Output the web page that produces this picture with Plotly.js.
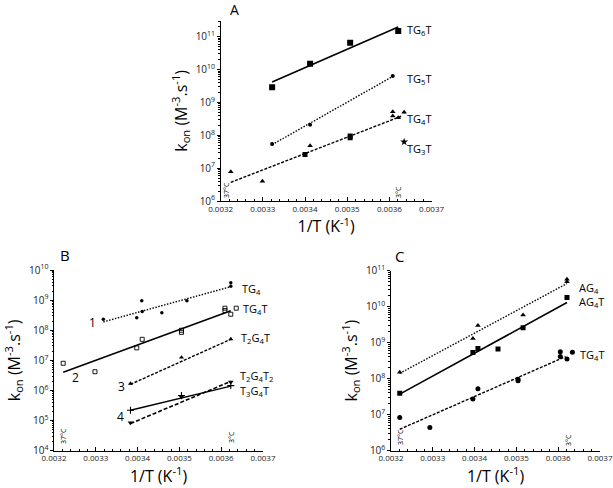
<!DOCTYPE html>
<html>
<head>
<meta charset="utf-8">
<script src="https://cdn.plot.ly/plotly-3.0.1.min.js"></script>
<style>
  html, body { margin: 0; padding: 0; background: #fff; }
  #graph { width: 613px; height: 488px; }
</style>
</head>
<body>
<div id="graph"></div>
<script>
// ---- panel A ----
const a_tg6t_x = [0.003322, 0.003412, 0.003507, 0.003621];
const a_tg6t_y = [2.9e9, 1.5e10, 6.6e10, 1.5e11];
const a_tg6t_fit_x = [0.003322, 0.003621];
const a_tg6t_fit_y = [4.2e9, 2.0e11];

const a_tg5t_x = [0.003322, 0.003412, 0.003608];
const a_tg5t_y = [5.4e7, 2.1e8, 6.4e9];
const a_tg5t_fit_x = [0.003322, 0.003608];
const a_tg5t_fit_y = [5.2e7, 6.2e9];

const a_tg4t_x = [0.003224, 0.003299, 0.0034, 0.003412, 0.003507, 0.003507, 0.003608, 0.003608, 0.003621, 0.003635];
const a_tg4t_y = [7.8e6, 4.0e6, 2.6e7, 4.8e7, 9.6e7, 8.5e7, 5.2e8, 3.9e8, 3.4e8, 5.0e8];
const a_tg4t_fit_x = [0.003224, 0.003628];
const a_tg4t_fit_y = [3.7e6, 3.8e8];

const a_tg3t_x = [0.003635];
const a_tg3t_y = [6.3e7];

// ---- panel B ----
const b_tg4_x = [0.003318, 0.003398, 0.00341, 0.003411, 0.003458, 0.003518, 0.003623, 0.003623];
const b_tg4_y = [2.3e8, 2.6e8, 9.5e8, 4.2e8, 3.8e8, 9.5e8, 3.8e9, 2.9e9];
const b_tg4_fit_x = [0.003318, 0.003623];
const b_tg4_fit_y = [1.9e8, 2.8e9];

const b_tg4t_x = [0.003222, 0.003298, 0.003398, 0.003411, 0.003505, 0.003505, 0.003609, 0.003609, 0.003623, 0.003636];
const b_tg4t_y = [8.0e6, 4.2e6, 2.6e7, 5.0e7, 1.0e8, 8.5e7, 5.4e8, 4.5e8, 3.4e8, 5.4e8];
const b_tg4t_fit_x = [0.003222, 0.003623];
const b_tg4t_fit_y = [4.0e6, 4.4e8];

const b_t2g4t_x = [0.003383, 0.003505, 0.003623];
const b_t2g4t_y = [1.7e6, 1.25e7, 5.1e7];
const b_t2g4t_fit_x = [0.003383, 0.003623];
const b_t2g4t_fit_y = [1.6e6, 5.0e7];

const b_t2g4t2_x = [0.003383, 0.003505, 0.003623];
const b_t2g4t2_y = [8.5e4, 6.1e5, 1.9e6];
const b_t2g4t2_fit_x = [0.003383, 0.003623];
const b_t2g4t2_fit_y = [8.0e4, 2.0e6];

const b_t3g4t_x = [0.003383, 0.003505, 0.003623];
const b_t3g4t_y = [2.2e5, 6.8e5, 1.45e6];
const b_t3g4t_fit_x = [0.003383, 0.003623];
const b_t3g4t_fit_y = [2.2e5, 1.4e6];

// ---- panel C ----
const c_ag4_x = [0.003221, 0.003396, 0.003408, 0.003516, 0.003621, 0.003621];
const c_ag4_y = [1.5e8, 1.3e9, 3.0e9, 5.9e9, 5.8e10, 4.9e10];
const c_ag4_fit_x = [0.003221, 0.003621];
const c_ag4_fit_y = [1.4e8, 4.4e10];

const c_ag4t_x = [0.003221, 0.003396, 0.003408, 0.003456, 0.003516, 0.003621];
const c_ag4t_y = [3.9e7, 5.3e8, 6.9e8, 6.6e8, 2.6e9, 1.8e10];
const c_ag4t_fit_x = [0.003221, 0.003621];
const c_ag4t_fit_y = [3.7e7, 1.3e10];

const c_tg4t_x = [0.003221, 0.003293, 0.003396, 0.003408, 0.003504, 0.003504, 0.003605, 0.003605, 0.003621, 0.003634];
const c_tg4t_y = [8.3e6, 4.4e6, 2.7e7, 5.2e7, 9.6e7, 8.7e7, 5.6e8, 4.1e8, 3.5e8, 5.4e8];
const c_tg4t_fit_x = [0.003221, 0.003618];
const c_tg4t_fit_y = [3.9e6, 4.1e8];

const xTicks = [0.0032, 0.0033, 0.0034, 0.0035, 0.0036, 0.0037];

function pts(x, y, ax, symbol, size, extra) {
  return Object.assign({
    x: x, y: y, xaxis: "x" + ax, yaxis: "y" + ax,
    type: "scatter", mode: "markers", showlegend: false, hoverinfo: "skip",
    marker: { symbol: symbol, size: size, color: "black", line: { width: 0 } },
  }, extra || {});
}
function fit(x, y, ax, dash, width) {
  return {
    x: x, y: y, xaxis: "x" + ax, yaxis: "y" + ax,
    type: "scatter", mode: "lines", showlegend: false, hoverinfo: "skip",
    line: { color: "black", dash: dash, width: width || 1.4 },
  };
}

const DASH = "3px,1.5px";
const DOT = "1.5px,1.5px";

const data = [
  fit(a_tg6t_fit_x, a_tg6t_fit_y, "", "solid", 1.6),
  pts(a_tg6t_x, a_tg6t_y, "", "square", 6),
  fit(a_tg5t_fit_x, a_tg5t_fit_y, "", DOT),
  pts(a_tg5t_x, a_tg5t_y, "", "circle", 4),
  fit(a_tg4t_fit_x, a_tg4t_fit_y, "", DASH),
  pts(a_tg4t_x, a_tg4t_y, "", "triangle-up", 6, {
    marker: { symbol: ["triangle-up", "triangle-up", "square", "triangle-up", "square", "square",
      "triangle-up", "triangle-up", "triangle-up", "triangle-up"], size: 5, color: "black" },
  }),
  pts(a_tg3t_x, a_tg3t_y, "", "star", 6),

  fit(b_tg4_fit_x, b_tg4_fit_y, "2", DOT),
  pts(b_tg4_x, b_tg4_y, "2", "circle", 3.5),
  fit(b_tg4t_fit_x, b_tg4t_fit_y, "2", "solid", 1.6),
  pts(b_tg4t_x, b_tg4t_y, "2", "square-open", 4, {
    marker: { symbol: "square-open", size: 4, color: "black", line: { width: 0.9, color: "black" } },
  }),
  fit(b_t2g4t_fit_x, b_t2g4t_fit_y, "2", DASH),
  pts(b_t2g4t_x, b_t2g4t_y, "2", "triangle-up", 4.5),
  fit(b_t2g4t2_fit_x, b_t2g4t2_fit_y, "2", "4px,2px", 1.6),
  pts(b_t2g4t2_x, b_t2g4t2_y, "2", "triangle-down", 5),
  fit(b_t3g4t_fit_x, b_t3g4t_fit_y, "2", "solid", 1.4),
  pts(b_t3g4t_x, b_t3g4t_y, "2", "cross-thin-open", 5, {
    marker: { symbol: "cross-thin-open", size: 5, color: "black", line: { width: 1.1, color: "black" } },
  }),

  fit(c_ag4_fit_x, c_ag4_fit_y, "3", DOT),
  pts(c_ag4_x, c_ag4_y, "3", "triangle-up", 5),
  fit(c_ag4t_fit_x, c_ag4t_fit_y, "3", "solid", 1.6),
  pts(c_ag4t_x, c_ag4t_y, "3", "square", 5),
  fit(c_tg4t_fit_x, c_tg4t_fit_y, "3", DASH),
  pts(c_tg4t_x, c_tg4t_y, "3", "circle", 5),
];

const FONT = "Open Sans, Lato, sans-serif";

function xAxis(domain, anchor) {
  return {
    domain: domain, anchor: anchor, range: [0.0032, 0.0037],
    tickvals: xTicks, tickformat: ".4f",
    ticks: "inside", ticklen: 4, tickwidth: 1, tickcolor: "black",
    minor: { dtick: 0.00002, ticks: "inside", ticklen: 2, tickcolor: "black" },
    showline: true, linecolor: "black", linewidth: 1,
    showgrid: false, zeroline: false,
    tickfont: { family: FONT, size: 8, color: "#222" },
    title: { text: "1/T (K<sup>-1</sup>)", font: { family: FONT, size: 16, color: "black" }, standoff: 6 },
  };
}
function yAxis(domain, anchor, range) {
  return {
    domain: domain, anchor: anchor, type: "log", range: range,
    dtick: 1, exponentformat: "power",
    ticks: "outside", ticklen: 3, tickwidth: 1, tickcolor: "black",
    minor: { ticks: "outside", ticklen: 1.5, tickcolor: "black", dtick: "D1" },
    showline: true, linecolor: "black", linewidth: 1,
    showgrid: false, zeroline: false,
    tickfont: { family: FONT, size: 8, color: "#222" },
    title: { text: "k<sub>on</sub> (M<sup>-3</sup>.s<sup>-1</sup>)", font: { family: FONT, size: 16, color: "black" }, standoff: 4 },
  };
}

function px(x) { return x / 613; }
function py(y) { return 1 - y / 488; }

function label(text, x, y, size, extra) {
  return Object.assign({
    xref: "paper", yref: "paper", x: px(x), y: py(y),
    text: text, showarrow: false, xanchor: "left", yanchor: "middle",
    font: { family: FONT, size: size, color: "black" },
  }, extra || {});
}
function temp(text, x, y) {
  return label(text, x, y, 7, { textangle: -90, xanchor: "center" });
}

const annotations = [
  label("A", 228, 10, 14),
  label("B", 58, 255, 15),
  label("C", 393, 256, 15),

  label("TG<sub>6</sub>T", 405, 30, 11),
  label("TG<sub>5</sub>T", 405, 79, 11),
  label("TG<sub>4</sub>T", 405, 119, 11),
  label("TG<sub>3</sub>T", 405, 149, 11),

  label("TG<sub>4</sub>", 240, 289, 11),
  label("TG<sub>4</sub>T", 241, 309, 11),
  label("T<sub>2</sub>G<sub>4</sub>T", 239, 338, 11),
  label("T<sub>2</sub>G<sub>4</sub>T<sub>2</sub>", 238, 376, 11),
  label("T<sub>3</sub>G<sub>4</sub>T", 238, 391, 11),
  label("1", 87, 322, 12),
  label("2", 70, 377, 12),
  label("3", 116, 386, 12),
  label("4", 115, 416, 12),

  label("AG<sub>4</sub>", 577, 288, 11),
  label("AG<sub>4</sub>T", 577, 302, 11),
  label("TG<sub>4</sub>T", 578, 355, 11),

  temp("37°C", 226, 190),
  temp("3°C", 398, 192),
  temp("37°C", 63, 436),
  temp("3°C", 231, 437),
  temp("37°C", 400, 437),
  temp("3°C", 568, 440),
];

const layout = {
  width: 613,
  height: 488,
  margin: { l: 0, r: 0, t: 0, b: 0 },
  paper_bgcolor: "white",
  plot_bgcolor: "white",
  showlegend: false,
  xaxis: xAxis([0.360, 0.704], "y"),
  yaxis: yAxis([0.5881, 0.9576], "x", [6, 11.49]),
  xaxis2: xAxis([0.0881, 0.429], "y2"),
  yaxis2: yAxis([0.0764, 0.4467], "x2", [4, 10]),
  xaxis3: xAxis([0.6378, 0.9788], "y3"),
  yaxis3: yAxis([0.0768, 0.4453], "x3", [6, 11]),
  annotations: annotations,
};

Plotly.newPlot("graph", data, layout, { staticPlot: true });
</script>
</body>
</html>
